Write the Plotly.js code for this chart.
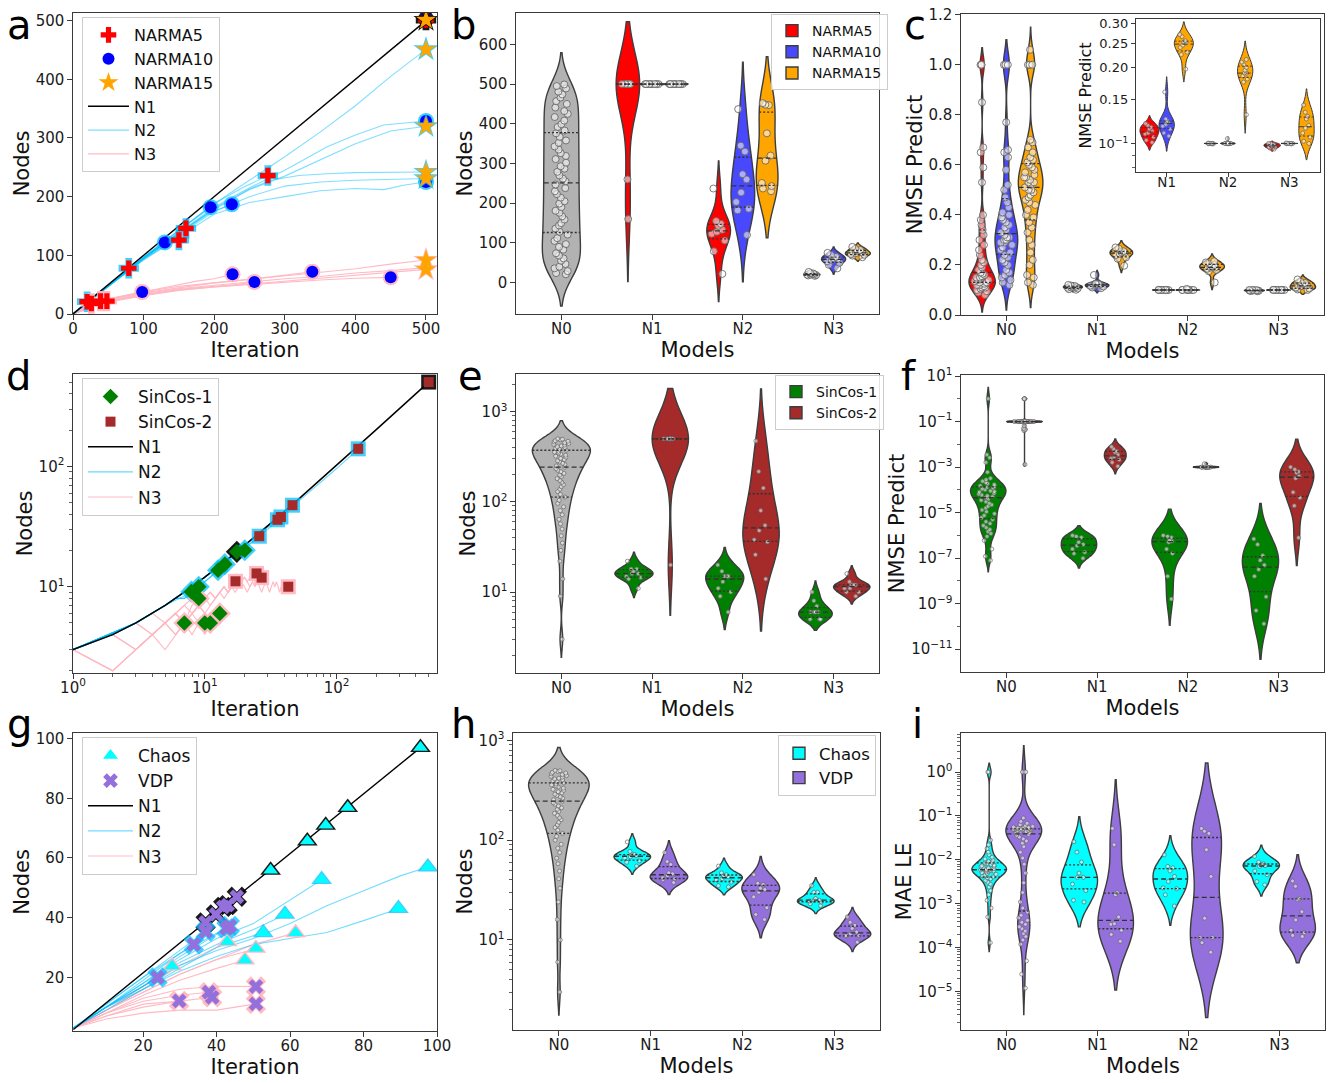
<!DOCTYPE html>
<html>
<head>
<meta charset="utf-8">
<script src="https://cdn.plot.ly/plotly-3.0.1.min.js"></script>
<style>html,body{margin:0;padding:0;background:#fff;} #chart{width:1328px;height:1083px;}</style>
</head>
<body>
<div id="chart"></div>
<script>
// ======================= DATA =======================
const MODELS = ['N0', 'N1', 'N2', 'N3'];

// ---------- panel a : NARMA, Nodes vs Iteration ----------
const aN1Iter = [[0, 500]];
const aN1Nodes = [[0, 500]];
const aN2Iter = [
  [0, 10, 20], [0, 40, 79], [0, 60, 100, 130], [0, 50, 100, 130, 150], [0, 50, 100, 140, 160],
  [0, 100, 150, 195], [0, 100, 150, 190, 225], [0, 100, 150, 200, 240, 276],
  [0, 100, 200, 250, 300, 350, 400, 450, 500], [0, 100, 200, 250, 300, 330, 360, 400, 440, 500],
  [0, 100, 200, 250, 300, 350, 400, 450, 500], [0, 100, 200, 250, 280, 320, 360, 400, 500],
  [0, 100, 200, 250, 300, 350, 400, 450, 500], [0, 100, 200, 250, 300, 350, 400, 440, 470, 500]
];
const aN2Nodes = [
  [0, 10, 21], [0, 40, 78], [0, 58, 95, 122], [0, 48, 92, 115, 126], [0, 49, 96, 130, 146],
  [0, 96, 142, 182], [0, 94, 138, 170, 187], [0, 97, 143, 188, 215, 236],
  [0, 97, 188, 228, 268, 310, 355, 405, 451], [0, 96, 182, 215, 245, 265, 285, 305, 322, 329],
  [0, 95, 178, 212, 235, 262, 290, 312, 320], [0, 95, 180, 213, 228, 236, 239, 241, 242],
  [0, 94, 175, 200, 218, 225, 228, 230, 231], [0, 93, 170, 190, 200, 210, 214, 212, 220, 225]
];
const aN3Iter = [
  [0, 8, 15, 20, 26], [0, 10, 20, 30, 39], [0, 10, 20, 30, 40, 48], [0, 20, 40, 60, 80, 98],
  [0, 25, 50, 75, 100, 125, 150, 175, 200, 226], [0, 25, 50, 100, 150, 200, 230, 257],
  [0, 50, 100, 150, 200, 250, 300, 339], [0, 50, 100, 150, 200, 250, 300, 350, 400, 450],
  [0, 50, 100, 150, 200, 250, 300, 350, 400, 450, 500], [0, 50, 100, 150, 200, 250, 300, 350, 400, 450, 500],
  [0, 50, 100, 150, 200, 250, 300, 350, 400, 450, 500]
];
const aN3Nodes = [
  [0, 7, 11, 15, 18], [0, 9, 13, 18, 22], [0, 8, 14, 17, 20, 22], [0, 15, 23, 27, 33, 37.5],
  [0, 17, 26, 31, 38, 44, 49, 56, 60, 67.6], [0, 14, 22, 32, 42, 47, 50, 54.5],
  [0, 25, 36, 44, 53, 59, 67, 72], [0, 22, 33, 41, 46, 50, 55, 58, 61, 62.5],
  [0, 26, 38, 47, 53, 59, 65, 71, 77, 85, 92], [0, 20, 31, 40, 46, 51, 56, 62, 66, 71, 76],
  [0, 23, 35, 43, 49, 55, 60, 64, 70, 74, 79]
];
const aNarma5Iter = [500, 20, 79, 150, 160, 276, 26, 39, 48];
const aNarma5Nodes = [501, 21, 78, 126, 146, 236, 18, 22, 22];
const aNarma5Model = ['N1', 'N2', 'N2', 'N2', 'N2', 'N2', 'N3', 'N3', 'N3'];
const aNarma10Iter = [500, 130, 195, 225, 500, 500, 98, 226, 257, 339, 450];
const aNarma10Nodes = [503, 122, 182, 187, 329, 225, 37.5, 67.6, 54.5, 72, 62.5];
const aNarma10Model = ['N1', 'N2', 'N2', 'N2', 'N2', 'N2', 'N3', 'N3', 'N3', 'N3', 'N3'];
const aNarma15Iter = [500, 500, 500, 500, 500, 500, 500];
const aNarma15Nodes = [501, 451, 320, 242, 231, 92, 76];
const aNarma15Model = ['N1', 'N2', 'N2', 'N2', 'N2', 'N3', 'N3'];

// ---------- panel b : NARMA nodes per model ----------
const bN0Nodes = [21, 24, 29, 36, 40, 47, 55, 61, 68, 74, 83, 90, 97, 105, 112, 121, 128, 136, 144, 150, 159, 167,
  176, 181, 190, 199, 205, 214, 223, 230, 238, 247, 255, 262, 270, 279, 287, 293, 302, 311, 319, 326, 335, 343,
  352, 358, 367, 376, 383, 392, 399, 408, 417, 425, 432, 441, 450, 457, 466, 474, 481, 489, 495, 499];
const bNarma5N1 = [160, 260, 500, 500, 500, 500, 500, 500, 500, 500];
const bNarma10N1 = [500, 500, 500, 500, 500, 500, 500, 500, 500, 500];
const bNarma15N1 = [500, 500, 500, 500, 500, 500, 500, 500, 500, 500];
const bNarma5N2 = [22, 79, 106, 123, 128, 133, 143, 148, 155, 237];
const bNarma10N2 = [120, 182, 186, 203, 227, 260, 273, 330, 345, 437];
const bNarma15N2 = [230, 237, 243, 251, 307, 320, 376, 447, 448, 452];
const bNarma5N3 = [17, 18, 19, 20, 20, 21, 22, 23, 24, 27];
const bNarma10N3 = [36, 45, 50, 54, 57, 60, 62, 65, 70, 75];
const bNarma15N3 = [64, 68, 70, 72, 74, 76, 79, 82, 85, 90];

// ---------- panel c : NARMA NMSE per model ----------
const cNarma5N0 = [0.08, 0.09, 0.095, 0.1, 0.105, 0.11, 0.11, 0.115, 0.12, 0.12, 0.125, 0.13, 0.13, 0.135, 0.14, 0.14,
  0.145, 0.15, 0.15, 0.155, 0.16, 0.165, 0.17, 0.18, 0.19, 0.2, 0.21, 0.22, 0.24, 0.26, 0.28, 0.3, 0.32, 0.34, 0.36,
  0.38, 0.4, 0.53, 0.59, 0.65, 0.67, 0.85, 1.0, 1.0, 1.0];
const cNarma10N0 = [0.12, 0.13, 0.14, 0.15, 0.16, 0.17, 0.18, 0.2, 0.21, 0.22, 0.23, 0.24, 0.25, 0.26, 0.27, 0.28,
  0.29, 0.29, 0.3, 0.3, 0.31, 0.31, 0.32, 0.33, 0.34, 0.35, 0.36, 0.37, 0.38, 0.39, 0.4, 0.41, 0.43, 0.45, 0.47,
  0.5, 0.52, 0.58, 0.63, 0.65, 0.66, 0.77, 1.0, 1.0, 1.0, 1.0];
const cNarma15N0 = [0.12, 0.13, 0.15, 0.16, 0.2, 0.22, 0.25, 0.28, 0.3, 0.33, 0.35, 0.37, 0.39, 0.4, 0.42, 0.44, 0.45,
  0.46, 0.47, 0.48, 0.49, 0.5, 0.5, 0.51, 0.52, 0.53, 0.53, 0.54, 0.55, 0.55, 0.56, 0.57, 0.58, 0.59, 0.6, 0.61,
  0.62, 0.63, 0.65, 0.67, 0.69, 0.7, 1.0, 1.0, 1.0, 1.0, 1.06];
const cNarma5N1 = [0.101, 0.103, 0.106, 0.109, 0.110, 0.112, 0.114, 0.116, 0.118, 0.120];
const cNarma10N1 = [0.107, 0.110, 0.114, 0.117, 0.119, 0.121, 0.122, 0.123, 0.125, 0.160];
const cNarma15N1 = [0.197, 0.225, 0.23, 0.24, 0.245, 0.25, 0.252, 0.255, 0.265, 0.27];
const cNarma5N2 = [0.0995, 0.0997, 0.0998, 0.1, 0.1, 0.1, 0.1, 0.1, 0.1002, 0.1003];
const cNarma10N2 = [0.0998, 0.1, 0.1, 0.1, 0.1, 0.1, 0.1, 0.1001, 0.1002, 0.1045];
const cNarma15N2 = [0.13, 0.175, 0.18, 0.185, 0.19, 0.19, 0.195, 0.2, 0.205, 0.21, 0.215];
const cNarma5N3 = [0.095, 0.096, 0.097, 0.097, 0.098, 0.098, 0.099, 0.099, 0.1, 0.1];
const cNarma10N3 = [0.0995, 0.0998, 0.1, 0.1, 0.1, 0.1, 0.1, 0.1, 0.1002, 0.1004];
const cNarma15N3 = [0.1, 0.102, 0.106, 0.11, 0.115, 0.118, 0.125, 0.128, 0.133, 0.142];

// ---------- panel d : SinCos, log-log Nodes vs Iteration ----------
const dN1Iter = [[1, 2, 3, 5, 7, 10, 15, 20, 30, 50, 70, 100, 150, 200, 300, 500]];
const dN1Nodes = [[3, 4, 5, 7, 9, 12, 17, 22, 32, 52, 72, 102, 152, 202, 302, 502]];
const dN2Iter = [
  [1, 2, 3, 4, 5, 6, 7, 8], [1, 2, 3, 4, 5, 6, 7, 8, 9], [1, 3, 5, 7, 9, 11, 13], [1, 3, 5, 7, 9, 11, 14],
  [1, 3, 5, 8, 10, 13, 16, 20], [1, 3, 5, 10, 15, 20, 26], [1, 3, 5, 10, 20, 30, 36], [1, 3, 5, 10, 20, 30, 38],
  [1, 3, 5, 10, 20, 30, 46], [1, 3, 5, 10, 20, 50, 100, 146]
];
const dN2Nodes = [
  [3, 4, 5, 6, 7, 8, 8, 9], [3, 4, 5, 6, 7, 8, 8, 9, 10], [3, 5, 7, 9, 10, 12, 14], [3, 5, 7, 9, 11, 13, 15],
  [3, 5, 7, 9, 11, 14, 17, 20], [3, 5, 7, 12, 17, 21, 26], [3, 5, 7, 12, 21, 30, 36], [3, 5, 7, 12, 22, 31, 38],
  [3, 5, 7, 12, 22, 32, 48], [3, 5, 7, 12, 22, 50, 96, 140]
];
const dN3Nodes = [
  [3, 4, 3, 4, 5, 6, 5, 7, 8],
  [3, 2, 3, 4, 3, 4, 5],
  [3, 4, 3, 4, 5, 4, 5, 4, 5, 5],
  [3, 2, 3, 4, 5, 4, 5, 6, 5, 4, 5],
  [3, 4, 5, 4, 5, 6, 5, 6, 7, 6, 5, 6, 6],
  [3, 4, 5, 6, 5, 6, 7, 8, 7, 8, 9, 8, 9, 10, 9, 10, 11],
  [3, 4, 5, 4, 5, 6, 7, 6, 7, 8, 9, 8, 9, 10, 9, 10, 11, 10, 11, 12, 11, 12, 13, 12, 13],
  [3, 2, 3, 4, 5, 6, 5, 6, 7, 8, 7, 8, 9, 10, 9, 10, 11, 10, 11, 12, 11, 10, 11, 12, 11, 12, 12],
  [3, 4, 3, 4, 5, 6, 5, 6, 7, 6, 7, 8, 9, 8, 9, 10, 9, 10, 11, 10, 9, 10, 11, 10, 11, 10, 9, 10, 11, 10,
   9, 10, 11, 10, 11, 10, 9, 10, 11, 10, 9, 10, 10]
];
const dSin1Iter = [17.5, 7.9, 9.0, 12.6, 14.2, 20.1, 9.0, 7.0, 10.0, 11.0, 13.0];
const dSin1Nodes = [19.5, 9.1, 10, 13.7, 15.4, 20.1, 8.0, 5.0, 5.0, 5.0, 6.0];
const dSin1Model = ['N1', 'N2', 'N2', 'N2', 'N2', 'N2', 'N3', 'N3', 'N3', 'N3', 'N3'];
const dSin2Iter = [500, 146, 46.3, 37.8, 35.6, 25.9, 17.1, 24.7, 27, 43];
const dSin2Nodes = [502, 140, 47.6, 38, 36, 26.3, 11.1, 12.9, 11.9, 10];
const dSin2Model = ['N1', 'N2', 'N2', 'N2', 'N2', 'N2', 'N3', 'N3', 'N3', 'N3'];

// ---------- panel e : SinCos nodes per model ----------
const eN0Nodes = [3, 9, 14, 22, 29, 35, 42, 50, 57, 64, 72, 80, 88, 96, 104, 113, 121, 130, 138, 147, 155, 164, 172,
  181, 190, 198, 207, 216, 224, 233, 242, 250, 259, 268, 277, 285, 294, 303, 312, 321, 329, 338, 347, 356, 364, 373,
  382, 391, 399, 408, 417, 426, 434, 443, 452, 461, 470, 478, 487, 495, 500];
const eSin1N1 = [11, 14, 14.5, 15, 16, 16, 17, 18, 18, 22];
const eSin2N1 = [20, 500, 500, 500, 500, 500, 500, 500, 500, 500];
const eSin1N2 = [6, 9, 10, 11, 13, 15, 15, 15, 17, 20];
const eSin2N2 = [14, 26, 36, 38, 48, 55, 80, 142, 217, 473];
const eSin1N3 = [5, 5, 5, 6, 6, 6, 6, 7, 8, 10];
const eSin2N3 = [9, 10, 10, 11, 11, 12, 12, 12, 13, 16];

// ---------- panel f : SinCos NMSE per model ----------
const fSin1N0 = [1.0, 3.5e-3, 2.6e-3, 1.6e-3, 6e-4, 3.2e-4, 2.8e-4, 2.4e-4, 2.1e-4, 1.9e-4, 1.7e-4, 1.5e-4, 1.4e-4,
  1.3e-4, 1.2e-4, 1.1e-4, 1e-4, 9e-5, 8.5e-5, 8e-5, 7e-5, 6.5e-5, 6e-5, 5.5e-5, 5e-5, 4.5e-5, 4e-5, 3.5e-5, 3e-5,
  2.6e-5, 2.2e-5, 1.9e-5, 1.6e-5, 1.3e-5, 1.1e-5, 9e-6, 7.5e-6, 6e-6, 5e-6, 4e-6, 3.3e-6, 2.7e-6, 2.2e-6, 1.8e-6,
  1.5e-6, 1.2e-6, 9e-7, 6e-7, 2.5e-7, 1.2e-7, 8e-8];
const fSin2N0 = [1.0, 1.0, 0.1, 0.1, 0.1, 0.1, 0.1, 0.1, 0.1, 0.1, 0.1, 0.1, 0.1, 0.1, 0.1, 0.1, 0.1, 0.1,
  0.065, 0.05, 0.045, 0.04, 0.0013];
const fSin1N1 = [1e-7, 1.6e-7, 1.8e-7, 2.5e-7, 3.5e-7, 4e-7, 5e-7, 8e-7, 9e-7, 1e-6];
const fSin2N1 = [1.1e-3, 1.6e-3, 2.1e-3, 2.4e-3, 2.8e-3, 3.5e-3, 4.5e-3, 5e-3, 6.3e-3, 7.9e-3];
const fSin1N2 = [1.6e-9, 1.6e-8, 1.6e-7, 2.5e-7, 5e-7, 5.6e-7, 6.3e-7, 8e-7, 9e-7, 1e-6];
const fSin2N2 = [9.5e-4, 9.7e-4, 1e-3, 1e-3, 1e-3, 1e-3, 1e-3, 1.02e-3, 1.05e-3, 1.4e-3];
const fSin1N3 = [1.3e-10, 5e-10, 2e-9, 1.6e-8, 3.2e-8, 5e-8, 8e-8, 1.3e-7, 4e-7, 7e-7];
const fSin2N3 = [7.9e-7, 2e-5, 4.5e-5, 7.9e-5, 3.2e-4, 4e-4, 5.6e-4, 6.3e-4, 7.9e-4, 1e-3];

// ---------- panel g : Chaos / VDP, Nodes vs Iteration ----------
const gN1Iter = [[1, 96]];
const gN1Nodes = [[2.5, 97.5]];
const gN2Iter = [
  [1, 10, 20, 30, 40, 50, 60, 70, 80, 90, 97.5], [1, 10, 20, 30, 40, 50, 60, 70, 80, 89.5],
  [1, 10, 20, 30, 40, 50, 60, 68.6], [1, 10, 20, 30, 40, 50, 58.6], [1, 10, 20, 30, 40, 52.7],
  [1, 10, 20, 24], [1, 10, 20, 33.8], [1, 10, 20, 30, 37], [1, 10, 20, 30, 42.7], [1, 10, 20, 30, 43.6]
];
const gN2Nodes = [
  [3, 10, 17, 24, 29, 33, 38, 44, 49, 54, 57], [3, 10, 16, 22, 27, 31, 33, 35, 39, 43],
  [3, 10, 18, 26, 33, 38, 46, 52.7], [3, 10, 17, 25, 31, 36, 41], [3, 9, 16, 23, 30, 35],
  [3, 10, 17, 20], [3, 11, 20, 31], [3, 11, 20, 29, 35.3], [3, 10, 18, 27, 36.4], [3, 10, 19, 28, 37.2]
];
const gN3Iter = [
  [1, 10, 20, 27.9], [1, 10, 20, 30, 42.9], [1, 10, 20, 30, 40, 47.7], [1, 10, 20, 30, 40, 50.7],
  [1, 10, 20, 30, 40, 50, 61.5], [1, 10, 20, 29.8], [1, 10, 20, 30, 37.9], [1, 10, 20, 30, 38.8],
  [1, 10, 20, 30, 40, 50.7], [1, 10, 20, 30, 40, 50.7]
];
const gN3Nodes = [
  [3, 9, 17, 23.7], [3, 9, 16, 24, 31.8], [3, 8, 14, 19, 23, 25.7], [3, 9, 15, 21, 26, 29.6],
  [3, 9, 15, 21, 26, 31, 34.9], [3, 7, 10, 12], [3, 8, 12, 14, 15], [3, 7, 11, 12, 13.3],
  [3, 8, 13, 16, 17, 16.9], [3, 6, 8, 9, 9, 11.1]
];
const gChaosIter = [95.5, 75.7, 69.7, 64.7, 54.7, 97.5, 89.5, 68.6, 58.6, 52.7, 27.9, 42.9, 47.7, 50.7, 61.5];
const gChaosNodes = [97, 76.9, 71, 65.7, 55.9, 57, 43.1, 52.8, 41.1, 34.9, 23.8, 31.9, 25.8, 29.7, 34.9];
const gChaosModel = ['N1', 'N1', 'N1', 'N1', 'N1', 'N2', 'N2', 'N2', 'N2', 'N2', 'N3', 'N3', 'N3', 'N3', 'N3'];
const gVdpIter = [45.5, 43, 41.8, 39.8, 37, 23.9, 33.8, 37, 42.7, 43.6, 29.8, 37.9, 38.8, 50.7, 50.7];
const gVdpNodes = [47, 44.2, 43.6, 41.1, 38.4, 20, 31, 35.3, 36.4, 37.2, 12.1, 15, 13.3, 16.9, 11.1];
const gVdpModel = ['N1', 'N1', 'N1', 'N1', 'N1', 'N2', 'N2', 'N2', 'N2', 'N2', 'N3', 'N3', 'N3', 'N3', 'N3'];

// ---------- panel h : Chaos / VDP nodes per model ----------
const hN0Nodes = [3, 6, 10, 16, 24, 33, 41, 49, 58, 66, 75, 83, 91, 100, 109, 117, 126, 134, 142, 151, 160, 168, 177,
  186, 194, 203, 211, 220, 229, 237, 246, 254, 263, 272, 280, 289, 297, 306, 315, 323, 332, 341, 349, 358, 366, 375,
  384, 392, 401, 410, 418, 427, 436, 444, 453, 462, 470, 479, 488, 496, 500];
const hChaosN1 = [55, 60, 62, 66, 68, 70, 71, 72, 77, 96];
const hVdpN1 = [37.6, 40, 41, 42, 44, 46, 47, 57, 61, 75];
const hChaosN2 = [34, 35, 38, 40, 41, 43, 44, 45, 47, 55];
const hVdpN2 = [16, 18, 21, 27, 30, 32, 33, 36, 37, 45];
const hChaosN3 = [22, 23, 24, 24.5, 25, 25, 26, 30, 30, 35];
const hVdpN3 = [9.5, 11, 11, 11, 11.5, 12, 13, 14, 15, 17];

// ---------- panel i : Chaos / VDP MAE LE per model ----------
const iChaosN0 = [1, 1, 0.028, 0.022, 0.018, 0.015, 0.013, 0.0115, 0.0105, 0.0098, 0.0092, 0.0088, 0.0085, 0.0082,
  0.0079, 0.0076, 0.0073, 0.0071, 0.0069, 0.0067, 0.0065, 0.0063, 0.0061, 0.006, 0.0059, 0.0058, 0.0057, 0.0056,
  0.0055, 0.0053, 0.0051, 0.0049, 0.0047, 0.0045, 0.0043, 0.0041, 0.0039, 0.0037, 0.0034, 0.0031, 0.0028, 0.0024,
  0.002, 0.0016, 0.0012, 0.0008, 0.0005, 0.00013];
const iVdpN0 = [1, 1, 1, 0.09, 0.075, 0.068, 0.063, 0.06, 0.058, 0.056, 0.055, 0.054, 0.053, 0.052, 0.052, 0.051,
  0.051, 0.05, 0.05, 0.05, 0.05, 0.049, 0.049, 0.048, 0.048, 0.047, 0.046, 0.045, 0.044, 0.042, 0.04, 0.038, 0.036,
  0.033, 0.03, 0.027, 0.024, 0.02, 0.015, 0.011, 0.008, 0.005, 0.003, 0.0018, 0.0011, 0.0008, 0.00065, 0.00055,
  0.00048, 0.00042, 0.00038, 0.00034, 0.0003, 0.00027, 0.00024, 0.00021, 0.00018, 0.00015, 0.00012, 5e-5, 2.5e-5,
  1.2e-5];
const iChaosN1 = [1.1e-3, 1.2e-3, 2e-3, 2.8e-3, 4e-3, 4e-3, 5e-3, 8.9e-3, 1.5e-2, 2.6e-2];
const iVdpN1 = [1.4e-4, 2e-4, 2.5e-4, 3.4e-4, 3.5e-4, 5e-4, 1.6e-3, 1.8e-3, 2.2e-2, 5.2e-2];
const iChaosN2 = [8.9e-4, 1.6e-3, 2.2e-3, 2.3e-3, 3.2e-3, 4.2e-3, 5.6e-3, 6.6e-3, 7.1e-3, 1.3e-2];
const iVdpN2 = [7.9e-5, 1.3e-4, 1.7e-4, 1.7e-4, 4.7e-4, 4.2e-3, 1.7e-2, 4e-2, 4.5e-2, 5.2e-2];
const iChaosN3 = [2.7e-3, 3.2e-3, 4.6e-3, 5.6e-3, 7.1e-3, 7.4e-3, 7.9e-3, 8.1e-3, 8.9e-3, 1.2e-2];
const iVdpN3 = [1.8e-4, 1.9e-4, 2.2e-4, 2.5e-4, 4.3e-4, 6.6e-4, 1.26e-3, 1.3e-3, 2.5e-3, 3.3e-3];

// ======================= STYLE / HELPERS =======================
const W = 1328, H = 1083;
const FONT = 'DejaVu Sans, Verdana, sans-serif';
const RED = '#ff0000', BLUE = '#4848ff', ORANGE = '#ffa500', GREEN = '#008000', BROWN = '#a52a2a',
      CYAN = '#00ffff', PURPLE = '#9370db', GRAY = '#b2b2b2', EDGE = '#3d3d3d';
const N1C = '#000000', N2C = 'rgba(0,191,255,0.5)', N3C = 'rgba(255,182,193,0.95)';
const HALO = {N1: 'rgba(0,0,0,0.9)', N2: 'rgba(0,191,255,0.75)', N3: 'rgba(255,182,193,0.95)'};
const AX = {a: ['x', 'y'], b: ['x2', 'y2'], c: ['x3', 'y3'], d: ['x4', 'y4'], e: ['x5', 'y5'], f: ['x6', 'y6'],
            g: ['x7', 'y7'], h: ['x8', 'y8'], i: ['x9', 'y9'], ins: ['x10', 'y10']};
const lin = v => v;
const lg = v => Math.log10(v);
function seq(n) { const a = []; for (let k = 1; k <= n; k++) a.push(k); return a; }
const dN3Iter = dN3Nodes.map(r => seq(r.length));

const traces = [];

function runLines(ax, xs, ys, color, width, name, legend, rank) {
  xs.forEach((x, k) => traces.push({type: 'scatter', mode: 'lines', xaxis: ax[0], yaxis: ax[1], x: x, y: ys[k],
    line: {color: color, width: width}, name: name, legend: legend, legendrank: rank, showlegend: k === 0,
    hoverinfo: 'skip'}));
}
function markerSet(ax, xs, ys, models, sym, face, size, halo, name, legend, rank) {
  traces.push({type: 'scatter', mode: 'markers', xaxis: ax[0], yaxis: ax[1], x: xs, y: ys,
    marker: {symbol: sym, size: size + halo, color: models.map(m => HALO[m]), line: {width: 0}},
    showlegend: false, hoverinfo: 'skip'});
  traces.push({type: 'scatter', mode: 'markers', xaxis: ax[0], yaxis: ax[1], x: xs, y: ys,
    marker: {symbol: sym, size: size, color: face, line: {width: 0}},
    name: name, legend: legend, legendrank: rank, showlegend: true, hoverinfo: 'skip'});
}
function scottBw(v) {
  const n = v.length, m = v.reduce((s, x) => s + x, 0) / n;
  const sd = Math.sqrt(v.reduce((s, x) => s + (x - m) * (x - m), 0) / (n - 1));
  return sd * Math.pow(n, -0.2);
}
function quant(s, p) { const h = (s.length - 1) * p, lo = Math.floor(h), hi = Math.ceil(h); return s[lo] + (h - lo) * (s[hi] - s[lo]); }
function kde(v, bw, t) { let s = 0; for (const d of v) { const z = (t - d) / bw; s += Math.exp(-0.5 * z * z); } return s; }

function violins(ax, tf, specs, common) {
  specs.forEach(sp => {
    const v = sp.vals.map(tf);
    const bw = sp.bw || scottBw(v);
    const tr = {type: 'violin', xaxis: ax[0], yaxis: ax[1], x0: sp.pos, y: v, orientation: 'v',
      width: sp.w, bandwidth: bw, spanmode: 'soft', fillcolor: sp.color, line: {color: EDGE, width: common.lw || 1.4},
      points: 'all', pointpos: 0, jitter: sp.jit || common.jit,
      marker: {size: common.ms, color: 'rgba(255,255,255,0.55)', line: {color: 'rgba(100,100,100,0.85)', width: common.mlw}},
      box: {visible: false}, meanline: {visible: false}, hoverinfo: 'skip', showlegend: !!sp.leg};
    if (sp.leg) { tr.name = sp.leg; tr.legend = common.legend; tr.legendrank = sp.rank; }
    traces.push(tr);
    const s = v.slice().sort((p, q) => p - q);
    const lo = s[0] - 2 * bw, hi = s[s.length - 1] + 2 * bw;
    let mx = 0;
    for (let k = 0; k <= 600; k++) mx = Math.max(mx, kde(v, bw, lo + (hi - lo) * k / 600));
    [0.25, 0.5, 0.75].forEach(p => {
      const q = quant(s, p);
      const hw = kde(v, bw, q) / mx * sp.w / 2;
      traces.push({type: 'scatter', mode: 'lines', xaxis: ax[0], yaxis: ax[1], x: [sp.pos - hw, sp.pos + hw], y: [q, q],
        line: {color: '#333333', width: common.qlw || 1.3, dash: p === 0.5 ? '5px,3px' : '2px,2px'},
        showlegend: false, hoverinfo: 'skip'});
    });
  });
}

// ======================= TRACES =======================
// panel a
runLines(AX.a, aN3Iter, aN3Nodes, N3C, 1.1, 'N3', 'legend', 6);
runLines(AX.a, aN2Iter, aN2Nodes, N2C, 1.1, 'N2', 'legend', 5);
runLines(AX.a, aN1Iter, aN1Nodes, N1C, 1.4, 'N1', 'legend', 4);
markerSet(AX.a, aNarma10Iter, aNarma10Nodes, aNarma10Model, 'circle', '#0000ff', 12, 4, 'NARMA10', 'legend', 2);
markerSet(AX.a, aNarma5Iter, aNarma5Nodes, aNarma5Model, 'cross', RED, 13, 4, 'NARMA5', 'legend', 1);
markerSet(AX.a, aNarma15Iter, aNarma15Nodes, aNarma15Model, 'star', ORANGE, 15, 4, 'NARMA15', 'legend', 3);

// panel b
violins(AX.b, lin, [
  {vals: bN0Nodes, pos: 0, w: 0.42, color: GRAY, bw: 40, jit: 0.45},
  {vals: bNarma5N1, pos: 0.733, w: 0.26, color: RED, leg: 'NARMA5', rank: 1},
  {vals: bNarma10N1, pos: 1, w: 0.26, color: BLUE, bw: 3, leg: 'NARMA10', rank: 2},
  {vals: bNarma15N1, pos: 1.267, w: 0.26, color: ORANGE, bw: 3, leg: 'NARMA15', rank: 3},
  {vals: bNarma5N2, pos: 1.733, w: 0.26, color: RED},
  {vals: bNarma10N2, pos: 2, w: 0.26, color: BLUE},
  {vals: bNarma15N2, pos: 2.267, w: 0.24, color: ORANGE},
  {vals: bNarma5N3, pos: 2.76, w: 0.18, color: RED},
  {vals: bNarma10N3, pos: 3, w: 0.265, color: BLUE},
  {vals: bNarma15N3, pos: 3.267, w: 0.275, color: ORANGE}
], {ms: 7, mlw: 1, jit: 0.7, legend: 'legend2'});

// panel c
violins(AX.c, lin, [
  {vals: cNarma5N0, pos: -0.267, w: 0.29, color: RED, bw: 0.034, jit: 0.6},
  {vals: cNarma10N0, pos: 0, w: 0.25, color: BLUE, bw: 0.05, jit: 0.6},
  {vals: cNarma15N0, pos: 0.267, w: 0.27, color: ORANGE, bw: 0.045, jit: 0.6},
  {vals: cNarma5N1, pos: 0.733, w: 0.21, color: RED},
  {vals: cNarma10N1, pos: 1, w: 0.26, color: BLUE},
  {vals: cNarma15N1, pos: 1.267, w: 0.25, color: ORANGE},
  {vals: cNarma5N2, pos: 1.733, w: 0.24, color: RED},
  {vals: cNarma10N2, pos: 2, w: 0.26, color: BLUE},
  {vals: cNarma15N2, pos: 2.267, w: 0.27, color: ORANGE},
  {vals: cNarma5N3, pos: 2.733, w: 0.22, color: RED},
  {vals: cNarma10N3, pos: 3, w: 0.26, color: BLUE},
  {vals: cNarma15N3, pos: 3.267, w: 0.28, color: ORANGE}
], {ms: 7, mlw: 1, jit: 0.7});
// inset of c (log scale)
violins(AX.ins, lg, [
  {vals: cNarma5N1, pos: -0.28, w: 0.31, color: RED},
  {vals: cNarma10N1, pos: 0, w: 0.25, color: BLUE},
  {vals: cNarma15N1, pos: 0.28, w: 0.31, color: ORANGE},
  {vals: cNarma5N2, pos: 0.72, w: 0.22, color: RED},
  {vals: cNarma10N2, pos: 1, w: 0.24, color: BLUE},
  {vals: cNarma15N2, pos: 1.28, w: 0.25, color: ORANGE},
  {vals: cNarma5N3, pos: 1.72, w: 0.27, color: RED},
  {vals: cNarma10N3, pos: 2, w: 0.27, color: BLUE},
  {vals: cNarma15N3, pos: 2.28, w: 0.25, color: ORANGE}
], {ms: 4, mlw: 0.8, jit: 0.6, lw: 1, qlw: 0.9});

// panel d
runLines(AX.d, dN3Iter, dN3Nodes, N3C, 1.1, 'N3', 'legend3', 5);
runLines(AX.d, dN2Iter, dN2Nodes, 'rgba(0,191,255,0.6)', 1.1, 'N2', 'legend3', 4);
runLines(AX.d, dN1Iter, dN1Nodes, N1C, 1.5, 'N1', 'legend3', 3);
markerSet(AX.d, dSin2Iter, dSin2Nodes, dSin2Model, 'square', BROWN, 10, 5, 'SinCos-2', 'legend3', 2);
markerSet(AX.d, dSin1Iter, dSin1Nodes, dSin1Model, 'diamond', GREEN, 12, 5, 'SinCos-1', 'legend3', 1);

// panel e
violins(AX.e, lg, [
  {vals: eN0Nodes, pos: 0, w: 0.64, color: GRAY, bw: 0.1, jit: 0.3},
  {vals: eSin1N1, pos: 0.8, w: 0.42, color: GREEN, leg: 'SinCos-1', rank: 1},
  {vals: eSin2N1, pos: 1.2, w: 0.4, color: BROWN, leg: 'SinCos-2', rank: 2},
  {vals: eSin1N2, pos: 1.8, w: 0.42, color: GREEN},
  {vals: eSin2N2, pos: 2.2, w: 0.4, color: BROWN},
  {vals: eSin1N3, pos: 2.8, w: 0.37, color: GREEN},
  {vals: eSin2N3, pos: 3.2, w: 0.4, color: BROWN}
], {ms: 4, mlw: 0.8, jit: 0.5, legend: 'legend4'});

// panel f
violins(AX.f, lg, [
  {vals: fSin1N0, pos: -0.2, w: 0.39, color: GREEN, bw: 0.25, jit: 0.6},
  {vals: fSin2N0, pos: 0.2, w: 0.39, color: BROWN, bw: 0.04, jit: 0.6},
  {vals: fSin1N1, pos: 0.8, w: 0.39, color: GREEN},
  {vals: fSin2N1, pos: 1.2, w: 0.24, color: BROWN},
  {vals: fSin1N2, pos: 1.8, w: 0.39, color: GREEN},
  {vals: fSin2N2, pos: 2.2, w: 0.28, color: BROWN},
  {vals: fSin1N3, pos: 2.8, w: 0.4, color: GREEN},
  {vals: fSin2N3, pos: 3.2, w: 0.375, color: BROWN}
], {ms: 4, mlw: 0.8, jit: 0.5});

// panel g
runLines(AX.g, gN3Iter, gN3Nodes, N3C, 1.1, 'N3', 'legend5', 5);
runLines(AX.g, gN2Iter, gN2Nodes, 'rgba(0,191,255,0.55)', 1.1, 'N2', 'legend5', 4);
runLines(AX.g, gN1Iter, gN1Nodes, N1C, 1.4, 'N1', 'legend5', 3);
markerSet(AX.g, gChaosIter, gChaosNodes, gChaosModel, 'triangle-up', CYAN, 13, 5, 'Chaos', 'legend5', 1);
markerSet(AX.g, gVdpIter, gVdpNodes, gVdpModel, 'x', PURPLE, 13, 5, 'VDP', 'legend5', 2);

// panel h
violins(AX.h, lg, [
  {vals: hN0Nodes, pos: 0, w: 0.66, color: GRAY, bw: 0.115, jit: 0.3},
  {vals: hChaosN1, pos: 0.8, w: 0.4, color: CYAN, leg: 'Chaos', rank: 1},
  {vals: hVdpN1, pos: 1.2, w: 0.41, color: PURPLE, leg: 'VDP', rank: 2},
  {vals: hChaosN2, pos: 1.8, w: 0.4, color: CYAN},
  {vals: hVdpN2, pos: 2.2, w: 0.41, color: PURPLE},
  {vals: hChaosN3, pos: 2.8, w: 0.4, color: CYAN},
  {vals: hVdpN3, pos: 3.2, w: 0.4, color: PURPLE}
], {ms: 4, mlw: 0.8, jit: 0.5, legend: 'legend6'});

// panel i
violins(AX.i, lg, [
  {vals: iChaosN0, pos: -0.19, w: 0.38, color: CYAN, bw: 0.1, jit: 0.6},
  {vals: iVdpN0, pos: 0.19, w: 0.39, color: PURPLE, bw: 0.3, jit: 0.6},
  {vals: iChaosN1, pos: 0.8, w: 0.4, color: CYAN},
  {vals: iVdpN1, pos: 1.2, w: 0.39, color: PURPLE},
  {vals: iChaosN2, pos: 1.8, w: 0.38, color: CYAN},
  {vals: iVdpN2, pos: 2.2, w: 0.36, color: PURPLE},
  {vals: iChaosN3, pos: 2.8, w: 0.4, color: CYAN},
  {vals: iVdpN3, pos: 3.2, w: 0.39, color: PURPLE}
], {ms: 4, mlw: 0.8, jit: 0.5});

// ======================= LAYOUT =======================
const TICKF = {family: FONT, size: 15, color: '#1a1a1a'};
const TITLEF = {family: FONT, size: 21, color: '#111'};
function xd(l, r) { return [l / W, r / W]; }
function yd(t, b) { return [1 - b / H, 1 - t / H]; }
function axis(domain, anchor, o) {
  return Object.assign({domain: domain, anchor: anchor, showline: true, mirror: true, linecolor: '#3a3a3a', linewidth: 1.1,
    ticks: 'outside', ticklen: 4.5, tickwidth: 1, tickcolor: '#3a3a3a', showgrid: false, zeroline: false,
    fixedrange: true, tickfont: TICKF, type: 'linear'}, o);
}
function xaxisOf(domain, anchor, o) { return axis(domain, anchor, Object.assign({ticklabelstandoff: -4}, o)); }
function ttl(text, standoff, size) { return {text: text, font: Object.assign({}, TITLEF, size ? {size: size} : {}), standoff: standoff}; }
const SUP = n => '10<sup>' + (n < 0 ? '\u2212' + (-n) : n) + '</sup>';
function minorLog(lo, hi) { const out = []; for (let e = Math.floor(lo); e <= Math.ceil(hi); e++) for (let k = 2; k <= 9; k++) { const v = e + Math.log10(k); if (v > lo && v < hi) out.push(v); } return out; }
function minorTicks(vals) { return {tickmode: 'array', tickvals: vals, ticks: 'outside', ticklen: 2.5, tickwidth: 0.8, tickcolor: '#3a3a3a', showgrid: false}; }
const catX = (dom, anchor) => xaxisOf(dom, anchor, {range: [-0.5, 3.5], tickmode: 'array', tickvals: [0, 1, 2, 3], ticktext: MODELS, title: ttl('Models', 1)});
function logY(dom, anchor, range, majors, title) {
  return axis(dom, anchor, {range: range, tickmode: 'array', tickvals: majors, ticktext: majors.map(SUP), title: ttl(title, 0),
    minor: minorTicks(minorLog(range[0], range[1]))});
}
const COL = [xd(73, 437), xd(516, 879), xd(961, 1324)];
const ROW = [yd(13, 314), yd(374, 673), yd(733, 1031)];
const legBase = (x, y, size, iw) => ({x: x / W, y: 1 - y / H, xanchor: 'left', yanchor: 'top', bgcolor: 'rgba(255,255,255,0.85)',
  bordercolor: '#cccccc', borderwidth: 1, font: {family: FONT, size: size, color: '#111'}, tracegroupgap: 0, itemwidth: iw || 30});

// panel letters: [letter, left px, top px]
const letters = [['a', 6, 1], ['b', 450, 1], ['c', 903, 1], ['d', 5, 352], ['e', 457, 352],
                 ['f', 900, 352], ['g', 6, 700], ['h', 450, 700], ['i', 911, 700]];

const layout = {
  width: W, height: H, margin: {l: 0, r: 0, t: 0, b: 0}, paper_bgcolor: '#fff', plot_bgcolor: '#fff',
  font: {family: FONT, color: '#111'}, violinmode: 'overlay', hovermode: false,
  xaxis: xaxisOf(COL[0], 'y', {range: [0, 515.6], dtick: 100, title: ttl('Iteration', 1)}),
  yaxis: axis(ROW[0], 'x', {range: [0, 513], dtick: 100, title: ttl('Nodes', 0)}),
  xaxis2: catX(COL[1], 'y2'),
  yaxis2: axis(ROW[0], 'x2', {range: [-79, 679], dtick: 100, title: ttl('Nodes', 0)}),
  xaxis3: catX(COL[2], 'y3'),
  yaxis3: axis(yd(14, 315), 'x3', {range: [0, 1.203], dtick: 0.2, tickformat: '.1f', title: ttl('NMSE Predict', 0)}),
  xaxis4: xaxisOf(COL[0], 'y4', {type: 'log', range: [0, 2.762], tickmode: 'array', tickvals: [1, 10, 100], ticktext: [SUP(0), SUP(1), SUP(2)],
    minor: minorTicks([2, 3, 4, 5, 6, 7, 8, 9, 20, 30, 40, 50, 60, 70, 80, 90, 200, 300, 400, 500]), title: ttl('Iteration', 1)}),
  yaxis4: axis(ROW[1], 'x4', {type: 'log', range: [0.283, 2.768], tickmode: 'array', tickvals: [10, 100], ticktext: [SUP(1), SUP(2)],
    minor: minorTicks([2, 3, 4, 5, 6, 7, 8, 9, 20, 30, 40, 50, 60, 70, 80, 90, 200, 300, 400, 500]), title: ttl('Nodes', 0)}),
  xaxis5: catX(COL[1], 'y5'),
  yaxis5: logY(ROW[1], 'x5', [0.103, 3.417], [1, 2, 3], 'Nodes'),
  xaxis6: catX(COL[2], 'y6'),
  yaxis6: axis(yd(375, 672), 'x6', {range: [-12, 1.044], tickmode: 'array', tickvals: [-11, -9, -7, -5, -3, -1, 1],
    ticktext: [-11, -9, -7, -5, -3, -1, 1].map(SUP), minor: minorTicks([-10, -8, -6, -4, -2, 0]), title: ttl('NMSE Predict', 0)}),
  xaxis7: xaxisOf(COL[0], 'y7', {range: [0.9, 100], tickmode: 'array', tickvals: [20, 40, 60, 80, 100], title: ttl('Iteration', 1)}),
  yaxis7: axis(ROW[2], 'x7', {range: [2, 101.9], tickmode: 'array', tickvals: [20, 40, 60, 80, 100], title: ttl('Nodes', 0)}),
  xaxis8: catX(xd(513, 880), 'y8'),
  yaxis8: logY(yd(733, 1030), 'x8', [0.097, 3.074], [1, 2, 3], 'Nodes'),
  xaxis9: catX(xd(961, 1325), 'y9'),
  yaxis9: logY(yd(733, 1030), 'x9', [-5.874, 0.889], [-5, -4, -3, -2, -1, 0], 'MAE LE'),
  xaxis10: xaxisOf(xd(1136, 1320), 'y10', {range: [-0.5, 2.5], tickmode: 'array', tickvals: [0, 1, 2], ticktext: ['N1', 'N2', 'N3'],
    tickfont: {family: FONT, size: 13.5, color: '#1a1a1a'}, ticklen: 4, ticklabelstandoff: -6}),
  yaxis10: axis(yd(19, 172), 'x10', {range: [-1.113, -0.507], tickmode: 'array',
    tickvals: [-1, Math.log10(0.15), Math.log10(0.2), Math.log10(0.25), Math.log10(0.3)],
    ticktext: [SUP(-1), '0.15', '0.20', '0.25', '0.30'], tickfont: {family: FONT, size: 13, color: '#1a1a1a'}, ticklen: 4,
    minor: minorTicks([Math.log10(0.08), Math.log10(0.09)]), title: ttl('NMSE Predict', 2, 16)}),
  legend: legBase(82, 17, 16, 41),
  legend2: legBase(771, 14, 14),
  legend3: legBase(82, 378, 17, 45),
  legend4: legBase(775, 375, 14),
  legend5: legBase(82, 737, 17, 45),
  legend6: legBase(778, 735, 16.5),
  annotations: letters.map(l => ({text: l[0], xref: 'paper', yref: 'paper', x: l[1] / W, y: 1 - l[2] / H,
    xanchor: 'left', yanchor: 'top', showarrow: false, borderpad: 0, font: {family: FONT, size: 40, color: '#000'}}))
};

Plotly.newPlot('chart', traces, layout, {displayModeBar: false, staticPlot: true});
</script>
</body>
</html>
